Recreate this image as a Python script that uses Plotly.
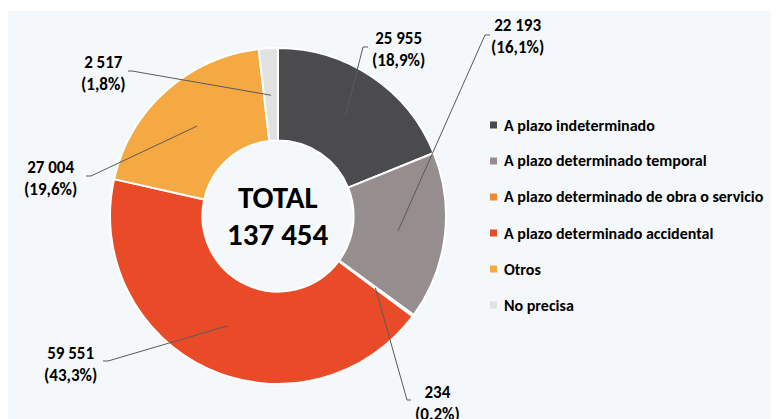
import math
import plotly.graph_objects as go

# ---- data ----
categories = ["A plazo indeterminado", "A plazo determinado temporal",
              "A plazo determinado de obra o servicio", "A plazo determinado accidental",
              "Otros", "No precisa"]
values = [25955, 22193, 234, 59551, 27004, 2517]
pct_labels = ["18,9%", "16,1%", "0.2%", "43,3%", "19,6%", "1,8%"]
total_label = "TOTAL"
colors = ["#4B4B4D", "#958D8E", "#F08A2C", "#E94B29", "#F5A942", "#E1E1E1"]

W, H = 779, 419
OX, OY = 8, 8  # page offset of the plot div (body margin)
FONT = "Carlito, Lato, 'Liberation Sans', sans-serif"
cx, cy, R = 278, 216, 168
hole = 0.45

def px(x):
    return (x - OX) / W

def py(y):
    return 1 - (y - OY) / H

fig = go.Figure()
fig.add_trace(go.Pie(
    labels=categories, values=values, sort=False, direction="clockwise", rotation=0,
    hole=hole, marker=dict(colors=colors, line=dict(color="white", width=2)),
    textinfo="none", hoverinfo="label+value+percent", showlegend=False,
    domain=dict(x=[px(cx - R), px(cx + R)], y=[py(cy + R), py(cy - R)]),
))

# label layout (screen px): (text center x, text center y, elbow x, elbow y, end x)
label_layout = [
    (399, 49, 363, 47, 368),
    (517, 36, 485, 35, 490),
    (438, 403, 407, 400, 411),
    (70, 364, 108, 361, 103),
    (50, 179, 91, 176, 86),
    (103, 73, 132, 71, 128),
]

total = sum(values)
shapes = [dict(type="rect", xref="paper", yref="paper", x0=0, x1=1,
               y0=0, y1=py(11), fillcolor="#F5F8FB", line=dict(width=0), layer="below")]
annotations = []
cum = 0
for i, v in enumerate(values):
    mid = (cum + v / 2) / total * 2 * math.pi
    cum += v
    ax = cx + 0.72 * R * math.sin(mid)
    ay = cy - 0.72 * R * math.cos(mid)
    tx, ty, ex, ey, endx = label_layout[i]
    shapes.append(dict(type="path", xref="paper", yref="paper",
                       path=f"M{px(ax)},{py(ay)} L{px(ex)},{py(ey)} L{px(endx)},{py(ey)}",
                       line=dict(color="#5A5A5A", width=1)))
    txt = f"{v:,}".replace(",", " ")
    annotations.append(dict(x=px(tx), y=py(ty), xref="paper", yref="paper", showarrow=False,
                            text=f"<b>{txt}<br>({pct_labels[i]})</b>", align="center",
                            font=dict(family=FONT, size=17, color="black"),
                            xanchor="center", yanchor="middle"))

# centre text
annotations.append(dict(x=px(cx), y=py(197), xref="paper", yref="paper", showarrow=False,
                        text=f"<b>{total_label}</b>", font=dict(family=FONT, size=31, color="black")))
annotations.append(dict(x=px(cx), y=py(234), xref="paper", yref="paper", showarrow=False,
                        text="<b>" + f"{total:,}".replace(",", " ") + "</b>",
                        font=dict(family=FONT, size=31, color="black")))

# custom legend
for i, c in enumerate(categories):
    ly = 125 + 36 * i
    shapes.append(dict(type="rect", xref="paper", yref="paper", x0=px(490), x1=px(497),
                       y0=py(ly + 3.5), y1=py(ly - 3.5), fillcolor=colors[i], line=dict(width=0)))
    annotations.append(dict(x=px(502), y=py(ly), xref="paper", yref="paper", showarrow=False,
                            text=f"<b>{c}</b>", xanchor="left", yanchor="middle",
                            font=dict(family=FONT, size=16, color="black")))

fig.update_layout(width=W, height=H, margin=dict(l=0, r=0, t=0, b=0),
                  paper_bgcolor="white", plot_bgcolor="white",
                  shapes=shapes, annotations=annotations, showlegend=False)
fig.write_html("out.html")
